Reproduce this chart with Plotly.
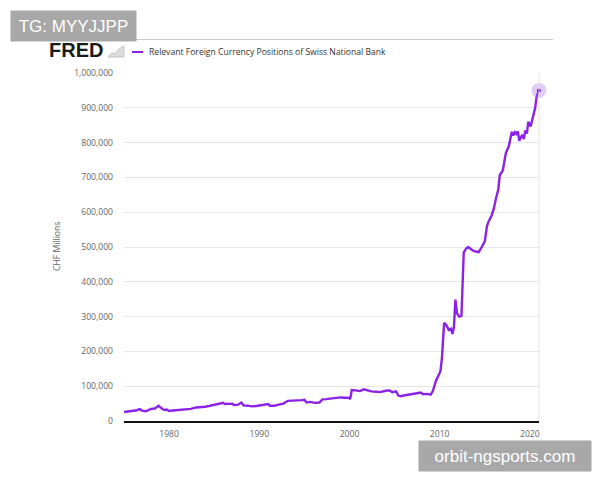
import plotly.graph_objects as go

# ---- data (CHF millions) ----
dates = [
    "1975-01", "1975-06", "1976-01", "1976-06", "1976-10", "1977-01", "1977-06", "1977-10",
    "1978-01", "1978-06", "1978-11", "1979-02", "1979-06", "1979-10", "1980-01", "1980-06",
    "1981-01", "1981-06", "1982-01", "1982-06", "1983-01", "1983-06", "1984-01", "1984-06",
    "1985-01", "1985-06", "1986-01", "1986-03", "1986-09", "1987-01", "1987-03", "1987-09",
    "1988-01", "1988-04", "1988-10", "1989-03", "1989-09", "1990-03", "1990-09", "1991-01",
    "1991-03", "1991-09", "1992-03", "1992-09", "1993-03", "1993-09", "1994-03", "1994-09",
    "1995-01", "1995-04", "1995-09", "1996-03", "1996-09", "1997-01", "1997-06", "1998-01",
    "1998-06", "1999-01", "1999-06", "1999-12", "2000-02", "2000-04", "2000-09", "2001-03",
    "2001-08", "2002-01", "2002-06", "2003-01", "2003-06", "2004-01", "2004-06", "2004-10",
    "2005-03", "2005-06", "2005-09", "2006-03", "2006-09", "2007-03", "2007-09", "2007-12",
    "2008-03", "2008-09", "2009-01", "2009-04", "2009-08", "2009-12", "2010-02", "2010-04",
    "2010-07", "2010-10", "2011-01", "2011-04", "2011-06", "2011-08", "2011-10", "2011-12",
    "2012-03", "2012-06", "2012-09", "2012-12", "2013-03", "2013-06", "2013-09", "2014-01",
    "2014-05", "2014-09", "2015-01", "2015-04", "2015-06", "2015-10", "2016-01", "2016-04",
    "2016-07", "2016-09", "2017-01", "2017-05", "2017-09", "2018-01", "2018-03", "2018-05",
    "2018-07", "2018-09", "2018-11", "2019-01", "2019-03", "2019-05", "2019-07", "2019-09",
    "2019-11", "2020-02", "2020-05", "2020-08", "2020-10", "2021-01",
]
values = [
    26000, 27000, 29000, 31000, 34000, 30000, 28000, 31000,
    35000, 36000, 44000, 38000, 32000, 33000, 29000, 30000,
    31000, 33000, 33000, 35000, 39000, 39000, 41000, 43000,
    47000, 49000, 52000, 49000, 49000, 50000, 46000, 47000,
    53000, 45000, 44000, 42000, 43000, 45000, 46000, 49000,
    44000, 44000, 47000, 50000, 58000, 58000, 59000, 60000,
    61000, 53000, 55000, 52000, 53000, 62000, 63000, 65000,
    66000, 68000, 67000, 67000, 63000, 89000, 88000, 86000,
    91000, 87000, 85000, 84000, 83000, 87000, 88000, 83000,
    85000, 73000, 71000, 74000, 76000, 77000, 80000, 82000,
    77000, 78000, 76000, 86000, 115000, 133000, 143000, 180000,
    282000, 275000, 262000, 265000, 250000, 270000, 349000, 310000,
    300000, 302000, 484000, 495000, 500000, 495000, 490000, 487000,
    485000, 500000, 516000, 560000, 573000, 590000, 610000, 640000,
    665000, 707000, 720000, 769000, 790000, 831000, 820000, 830000,
    825000, 832000, 805000, 815000, 822000, 810000, 835000, 826000,
    860000, 846000, 875000, 899000, 932000, 950000,
]
series_name = "Relevant Foreign Currency Positions of Swiss National Bank"
y_title = "CHF Millions"
x_range = ["1975-01-01", "2021-01-05"]
y_range = [0, 1000000]

# ---- geometry helpers (pixel -> paper) ----
W, H = 600, 480
L, R, T, B = 124, 539, 73, 421


def px(x):
    return (x - L) / (R - L)


def py(y):
    return (B - y) / (B - T)


LINE = "#8B22E6"

fig = go.Figure()
fig.add_trace(go.Scatter(
    x=dates, y=values, mode="lines",
    line=dict(color=LINE, width=2.4),
    name=series_name, showlegend=False, hoverinfo="skip",
))
# end-point highlight
fig.add_trace(go.Scatter(
    x=dates[-1:], y=values[-1:], mode="markers", cliponaxis=False,
    marker=dict(size=15, color="rgba(170,110,235,0.35)", line=dict(width=0)),
    showlegend=False, hoverinfo="skip",
))
fig.add_trace(go.Scatter(
    x=dates[-1:], y=values[-1:], mode="markers", cliponaxis=False,
    marker=dict(size=4, color="#6a0fc0"),
    showlegend=False, hoverinfo="skip",
))

shapes = [
    # header rule
    dict(type="line", xref="paper", yref="paper", x0=px(44), x1=px(553), y0=py(39.5), y1=py(39.5),
         line=dict(color="#c8c8c8", width=1)),
    # right border of plot
    dict(type="line", xref="paper", yref="paper", x0=1, x1=1, y0=0, y1=1,
         line=dict(color="#e4e4e4", width=1)),
    # legend swatch
    dict(type="line", xref="paper", yref="paper", x0=px(132), x1=px(143), y0=py(52), y1=py(52),
         line=dict(color=LINE, width=2)),
    # small FRED chart icon
    dict(type="path", xref="paper", yref="paper",
         path=f"M {px(108)},{py(57)} L {px(112)},{py(53)} L {px(115)},{py(54)} L {px(119)},{py(49)} "
              f"L {px(124)},{py(46)} L {px(124)},{py(57)} Z",
         fillcolor="#dcdcdc", line=dict(color="#c4c4c4", width=1)),
]

annotations = [
    dict(text="<b>FRED</b>", xref="paper", yref="paper", x=px(47), y=py(50.5), xanchor="left",
         yanchor="middle", showarrow=False,
         font=dict(family="Liberation Sans, Arial", size=20, color="#1a1a1a")),
    dict(text=series_name, xref="paper", yref="paper", x=px(147), y=py(52), xanchor="left",
         yanchor="middle", showarrow=False,
         font=dict(family="Open Sans", size=8.6, color="#333333")),
    dict(text=y_title, xref="paper", yref="paper", x=px(57), y=py(247), xanchor="center",
         yanchor="middle", textangle=-90, showarrow=False,
         font=dict(family="Open Sans", size=8.6, color="#666666")),
    # watermarks
    dict(text="TG: MYYJJPP", xref="paper", yref="paper", x=px(10), y=py(10), xanchor="left",
         yanchor="top", showarrow=False, width=125, height=30, bgcolor="#a8a8a8",
         borderpad=0, align="center", valign="middle",
         font=dict(family="Liberation Sans, Arial", size=17, color="#ffffff")),
    dict(text="orbit-ngsports.com", xref="paper", yref="paper", x=px(418), y=py(440), xanchor="left",
         yanchor="top", showarrow=False, width=172, height=30, bgcolor="#a8a8a8",
         borderpad=0, align="center", valign="middle",
         font=dict(family="Liberation Sans, Arial", size=17, color="#ffffff")),
]

fig.update_layout(
    width=W, height=H,
    margin=dict(l=L, r=W - R, t=T, b=H - B, pad=0),
    paper_bgcolor="white", plot_bgcolor="white",
    showlegend=False,
    shapes=shapes, annotations=annotations,
    xaxis=dict(
        type="date", range=x_range, tick0="1980-01-01", dtick="M120", tickformat="%Y",
        showgrid=False, zeroline=False, showline=True, linecolor="#111111", linewidth=2,
        ticks="", ticklabelstandoff=4,
        tickfont=dict(family="Open Sans", size=8.6, color="#666666"),
    ),
    yaxis=dict(
        range=y_range, dtick=100000, tickformat=",d", showgrid=True, gridcolor="#e6e6e6",
        gridwidth=1, zeroline=False, showline=False, ticks="", ticklabelstandoff=10,
        tickfont=dict(family="Open Sans", size=8.6, color="#666666"),
    ),
)

fig.write_html("out.html")
